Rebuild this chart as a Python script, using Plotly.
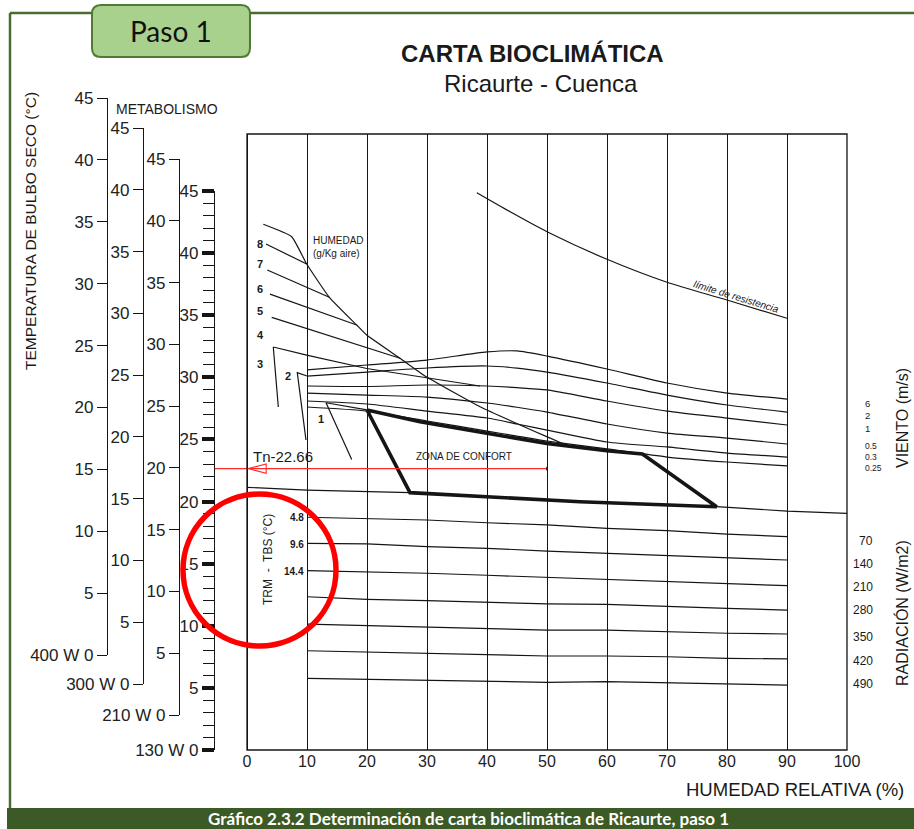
import plotly.graph_objects as go

W, H = 914, 829

# ---------------- data ----------------
rh_ticks = [0, 10, 20, 30, 40, 50, 60, 70, 80, 90, 100]

# wind lines (m/s), temperature (°C) read at RH = 10..90 %
wind_labels = ["6", "2", "1", "0.5", "0.3", "0.25"]
wind_x = [10, 20, 30, 40, 45, 50, 60, 70, 80, 90]
wind_6 = [30.60, 31.00, 31.40, 32.05, 32.13, 31.72, 30.68, 29.55, 28.74, 28.26]
wind_2 = [30.11, 30.43, 30.76, 30.92, 30.75, 30.43, 29.55, 28.58, 27.78, 27.21]
wind_1 = [29.31, 29.27, 29.39, 29.31, 29.18, 28.99, 28.10, 27.29, 26.73, 26.17]
wind_05 = [28.74, 28.58, 28.42, 27.94, 27.60, 27.21, 26.25, 25.52, 25.12, 24.64]
wind_03 = [28.10, 27.86, 27.29, 26.73, 26.25, 25.76, 24.80, 24.40, 23.91, 23.59]
wind_025 = [27.62, 27.29, 26.49, 25.68, 25.28, 24.88, 24.24, 23.59, 23.19, 22.87]
wind_series = [wind_6, wind_2, wind_1, wind_05, wind_03, wind_025]

# radiation lines (W/m2)
rad_labels = ["70", "140", "210", "280", "350", "420", "490"]
rad_x = [10, 20, 30, 40, 50, 60, 70, 80, 90]
rad_70 = [18.74, 18.66, 18.52, 18.30, 18.12, 17.85, 17.66, 17.39, 17.18]
rad_140 = [16.64, 16.59, 16.37, 16.24, 16.02, 15.84, 15.70, 15.52, 15.30]
rad_210 = [14.44, 14.36, 14.23, 14.07, 13.90, 13.74, 13.55, 13.37, 13.23]
rad_280 = [12.34, 12.13, 12.02, 11.89, 11.76, 11.73, 11.54, 11.41, 11.27]
rad_350 = [10.14, 10.01, 9.93, 9.80, 9.66, 9.66, 9.52, 9.40, 9.34]
rad_420 = [7.99, 7.89, 7.79, 7.65, 7.57, 7.57, 7.51, 7.38, 7.33]
rad_490 = [5.77, 5.69, 5.64, 5.56, 5.45, 5.50, 5.42, 5.37, 5.23]
rad_series = [rad_70, rad_140, rad_210, rad_280, rad_350, rad_420, rad_490]
trm_labels = ["4.8", "9.6", "14.4"]

# humidity lines (g/kg aire)
hum_labels = ["8", "7", "6", "5", "4", "3", "2", "1"]
env_x = [2.72, 7.45, 9.95, 13.72, 18.28, 19.95, 25.5, 29.95, 38.83, 49.95, 53.17]
env_y = [42.33, 41.33, 39.13, 36.45, 34.22, 33.41, 31.54, 30.03, 27.64, 25.23, 24.56]
h8_x, h8_y = [3.17, 9.95], [40.74, 39.13]
h7_x, h7_y = [3.38, 13.72], [38.65, 36.45]
h6_x, h6_y = [3.83, 18.28], [36.71, 34.22]
h5_x, h5_y = [4.12, 25.5], [34.84, 31.54]
h4_x, h4_y = [4.38, 9.95, 19.95, 29.95, 38.83], [32.45, 31.80, 30.72, 29.95, 29.31]
h3_x, h3_y = [4.38, 5.22], [32.45, 27.62]
h2_x, h2_y = [9.83, 8.38, 10.0], [24.96, 30.38, 30.11]
h1_x, h1_y = [17.45, 13.17, 20.0], [23.40, 27.96, 27.38]
hum_series = [(h8_x, h8_y), (h7_x, h7_y), (h6_x, h6_y), (h5_x, h5_y),
              (h4_x, h4_y), (h3_x, h3_y), (h2_x, h2_y), (h1_x, h1_y)]

# comfort zone
comfort_x = [20.0, 28.83, 39.95, 49.95, 59.95, 65.9, 78.28, 55.5, 27.17, 20.0]
comfort_y = [27.38, 26.43, 25.50, 24.69, 24.10, 23.83, 19.59, 19.99, 20.72, 27.38]
low_x = [0, 10, 27.17, 55.5, 78.28, 90, 100]
low_y = [21.15, 20.93, 20.72, 19.99, 19.59, 19.24, 19.06]

# limit of resistance
lim_x = [38.3, 44.0, 50.0, 60.0, 70.0, 80.0, 90.0]
lim_y = [44.87, 43.30, 41.73, 39.51, 37.66, 36.23, 34.76]

# neutral temperature
tn = 22.66
tn_end = 50

# metabolism rulers
ruler_names = ["400 W", "300 W", "210 W", "130 W"]
ruler_ticks = [0, 5, 10, 15, 20, 25, 30, 35, 40, 45]

# ---------------- helpers ----------------
def PX(x):
    return x / W


def PY(y):
    return 1 - y / H


BLACK = "#151515"
CAD = "Liberation Sans Narrow, Liberation Sans, Arial, sans-serif"
SANS = "Liberation Sans, Arial, sans-serif"

fig = go.Figure()


def add_line(x, y, width=1.2, color=BLACK, shape="linear", smoothing=1.0):
    ln = dict(color=color, width=width, shape=shape)
    if shape == "spline":
        ln["smoothing"] = smoothing
    fig.add_trace(go.Scatter(x=x, y=y, mode="lines", line=ln,
                             hoverinfo="skip", showlegend=False))


for s in wind_series:
    add_line(wind_x, s, 1.2, shape="spline", smoothing=0.6)
for s in rad_series:
    add_line(rad_x, s, 1.2)
add_line(env_x, env_y, 1.2, shape="spline", smoothing=0.4)
for hx, hy in hum_series:
    add_line(hx, hy, 1.2)
add_line(low_x, low_y, 1.2)
add_line(lim_x, lim_y, 1.2, shape="spline", smoothing=0.8)
add_line(comfort_x, comfort_y, 3.6)
# Tn line
add_line([-5.5, tn_end], [tn, tn], 1.1, color="#ff2a2a")

# dummy traces for the ruler axes
for i in range(4):
    fig.add_trace(go.Scatter(x=[None], y=[None], xaxis="x2", yaxis=f"y{i+2}",
                             showlegend=False, hoverinfo="skip"))

x_dom = [PX(214), PX(847)]
y_dom = [PY(750), PY(134)]

layout = dict(
    template="none",
    width=W, height=H, autosize=False,
    margin=dict(l=0, r=0, t=0, b=0, pad=0, autoexpand=False),
    paper_bgcolor="white", plot_bgcolor="white",
    showlegend=False,
    xaxis=dict(domain=x_dom, range=[-5.5, 100], tickvals=rh_ticks,
               ticktext=[str(v) for v in rh_ticks], showgrid=True,
               gridcolor=BLACK, gridwidth=1.1, zeroline=False, showline=False,
               ticks="", automargin=False,
               tickfont=dict(family=SANS, size=16, color="#222"),
               fixedrange=True),
    yaxis=dict(domain=y_dom, range=[0, 49.6], visible=False, fixedrange=True,
               automargin=False),
    xaxis2=dict(domain=[0, 0.01], visible=False, anchor="y2", fixedrange=True,
                automargin=False),
)

ruler_pos = [107, 143, 179, 214]
ruler_dom = [(655, 98), (684, 128), (715, 159), (750, 191)]
for i in range(4):
    ax = dict(domain=[PY(ruler_dom[i][0]), PY(ruler_dom[i][1])], range=[0, 45],
              anchor="free", position=PX(ruler_pos[i]), side="left",
              showline=True, linecolor=BLACK, linewidth=1.3, automargin=False,
              ticks="outside", ticklen=10, tickwidth=1.2, tickcolor=BLACK,
              tickvals=ruler_ticks,
              ticktext=[f"{ruler_names[i]} 0" if t == 0 else str(t) for t in ruler_ticks],
              showgrid=False, zeroline=False, fixedrange=True,
              tickfont=dict(family=CAD, size=17, color="#222"))
    if i == 3:
        ax.update(tickwidth=3.5, ticklen=12,
                  minor=dict(tickmode="linear", tick0=0, dtick=1, ticks="outside",
                             ticklen=11, tickwidth=1.2, tickcolor=BLACK, showgrid=False))
    layout[f"yaxis{i+2}"] = ax

fig.update_layout(**layout)

# ---------------- shapes ----------------
shapes = []
# plot frame
shapes.append(dict(type="rect", xref="paper", yref="paper", x0=PX(247), x1=PX(847),
                   y0=PY(750), y1=PY(134), line=dict(color=BLACK, width=1.3)))
# arrow head on Tn line
shapes.append(dict(type="path", xref="x", yref="y",
                   path=f"M 0.2,{tn} L 3.2,{tn + 0.37} L 3.2,{tn - 0.37} Z",
                   line=dict(color="#ff2a2a", width=1.1)))
# small end tick of the Tn line
shapes.append(dict(type="line", xref="x", yref="y", x0=tn_end, x1=tn_end,
                   y0=tn - 0.15, y1=tn + 0.15, line=dict(color=BLACK, width=1.5)))
# red circle
shapes.append(dict(type="circle", xref="paper", yref="paper", x0=PX(183), x1=PX(336),
                   y0=PY(646), y1=PY(494), line=dict(color="#ff0000", width=5.5)))
# green frame
GREEN = "#4a6b30"
shapes.append(dict(type="line", xref="paper", yref="paper", x0=PX(10), x1=PX(10),
                   y0=PY(13), y1=PY(808), line=dict(color=GREEN, width=2.5)))
shapes.append(dict(type="line", xref="paper", yref="paper", x0=PX(10), x1=PX(92),
                   y0=PY(13), y1=PY(13), line=dict(color=GREEN, width=2.5)))
shapes.append(dict(type="line", xref="paper", yref="paper", x0=PX(250), x1=1.0,
                   y0=PY(13), y1=PY(13), line=dict(color=GREEN, width=2.5)))
# caption bar
shapes.append(dict(type="rect", xref="paper", yref="paper", x0=PX(7), x1=1.0,
                   y0=0.0, y1=PY(808), fillcolor="#3b5a25", line=dict(width=0)))
# Paso 1 rounded box
x0, x1, y0, y1, r = 92, 250, 5, 57, 9
pts = [("M", x0 + r, y0), ("L", x1 - r, y0), ("Q", x1, y0, x1, y0 + r),
       ("L", x1, y1 - r), ("Q", x1, y1, x1 - r, y1), ("L", x0 + r, y1),
       ("Q", x0, y1, x0, y1 - r), ("L", x0, y0 + r), ("Q", x0, y0, x0 + r, y0)]
path = ""
for p in pts:
    cmd = p[0]
    coords = p[1:]
    parts = []
    for k in range(0, len(coords), 2):
        parts.append(f"{PX(coords[k]):.5f},{PY(coords[k+1]):.5f}")
    path += cmd + " " + " ".join(parts) + " "
path += "Z"
shapes.append(dict(type="path", xref="paper", yref="paper", path=path,
                   fillcolor="#a9d18e", line=dict(color="#4f7a32", width=2)))
fig.update_layout(shapes=shapes)

# ---------------- annotations ----------------
ann = []


def note(text, x, y, size=12, family=SANS, color="#1a1a1a", xanchor="center",
         yanchor="middle", angle=0, align="center"):
    ann.append(dict(text=text, x=PX(x), y=PY(y), xref="paper", yref="paper",
                    showarrow=False, xanchor=xanchor, yanchor=yanchor, align=align,
                    textangle=angle, font=dict(family=family, size=size, color=color)))


note("<b>CARTA BIOCLIMÁTICA</b>", 532, 53, 24)
note("Ricaurte - Cuenca", 541, 83, 24)
note("METABOLISMO", 167, 109, 14, SANS)
note("TEMPERATURA DE BULBO SECO (°C)", 31, 231, 15.5, SANS, angle=-90)
note("HUMEDAD RELATIVA (%)", 906, 789, 18.5, SANS, xanchor="right")
note("VIENTO (m/s)", 902, 418, 16, SANS, angle=-90)
note("RADIACIÓN (W/m2)", 902, 613, 16, SANS, angle=-90)
note("<br>".join(wind_labels[:3]), 863, 416, 9.5, SANS, xanchor="left", align="left")
note("<br>".join(wind_labels[3:]), 863, 457, 8.5, SANS, xanchor="left", align="left")
for lab, yy in zip(rad_labels, [541, 564, 587, 610, 637, 661, 684]):
    note(lab, 875, yy, 12, SANS, xanchor="right")
note("TRM  -  TBS (°C)", 268, 560, 12, SANS, angle=-90)
for lab, yy in zip(trm_labels, [517, 544, 571]):
    note(f"<b>{lab}</b>", 306, yy, 10, SANS, xanchor="right")
for lab, (xx, yy) in zip(hum_labels, [(260, 244), (260, 264), (260, 289), (260, 311),
                                       (260, 335), (260, 364), (288, 376), (321, 419)]):
    note(f"<b>{lab}</b>", xx, yy, 11, SANS)
note("HUMEDAD<br>(g/Kg aire)", 311, 233, 10, SANS, xanchor="left", yanchor="top",
     align="left")
note("ZONA DE CONFORT", 464, 457, 10, SANS)
note(f"Tn-{tn:.2f}", 251, 457, 15, CAD, xanchor="left")
note("<i>límite de resistencia</i>", 736, 296, 10, SANS, angle=17)
note("Paso 1", 171, 31, 28, "Lato, Open Sans, sans-serif", color="#111")
note("<b>Gráfico 2.3.2 Determinación de carta bioclimática de Ricaurte, paso 1</b>",
     468, 818.5, 17, "Lato, Open Sans, sans-serif", color="white")
fig.update_layout(annotations=ann)

post = (
    "document.body.style.margin='0';document.body.style.padding='0';"
    "document.body.style.overflow='hidden';"
)
fig.write_html("out.html", include_plotlyjs=True,
               config={"responsive": False, "displayModeBar": False},
               post_script=post)
